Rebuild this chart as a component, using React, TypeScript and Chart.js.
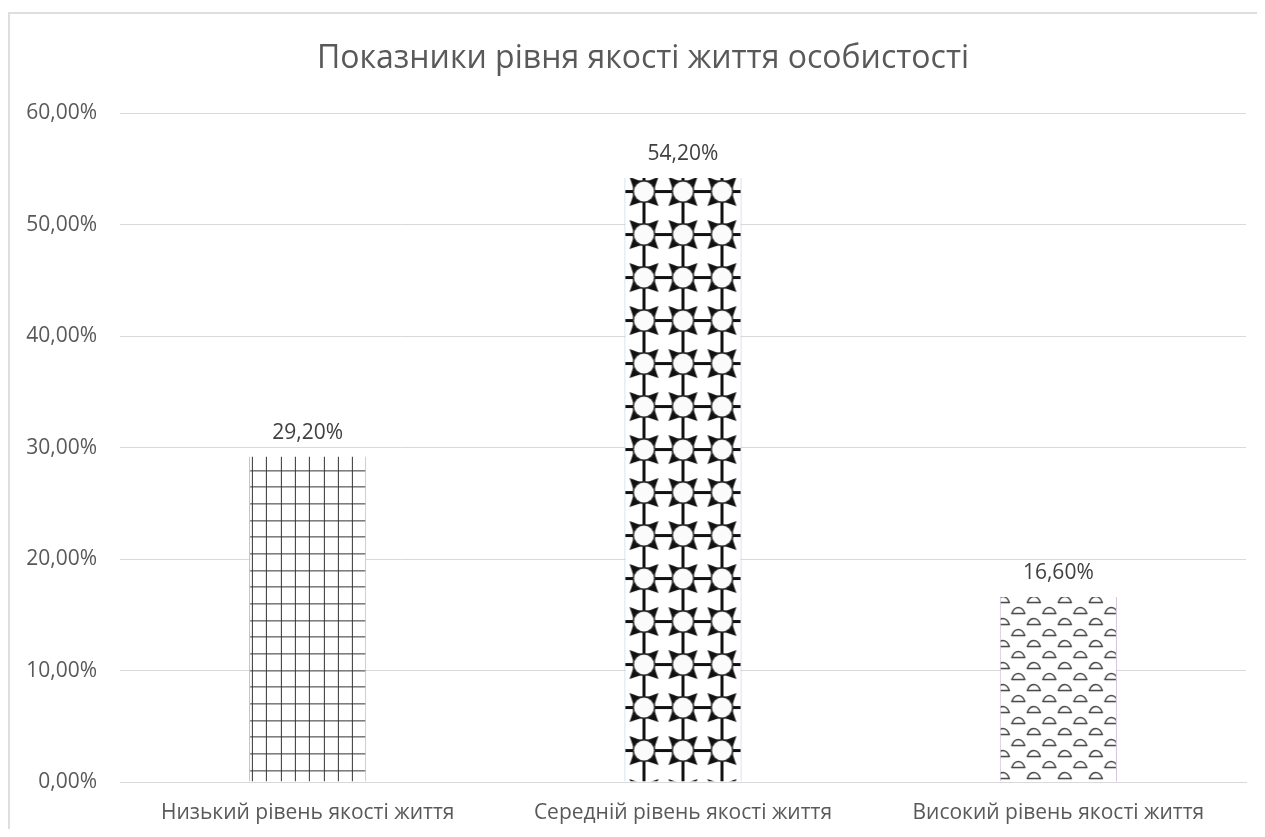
import React, { useEffect, useRef } from "react";
import { Chart, registerables } from "chart.js";

Chart.register(...registerables);

// Chart content
const chartTitle = "Показники рівня якості життя особистості";
const categories = [
  "Низький рівень якості життя",
  "Середній рівень якості життя",
  "Високий рівень якості життя",
];
const percentValues = [29.2, 54.2, 16.6];
const yMin = 0;
const yMax = 60;
const yStep = 10;

const FONT = "'Open Sans', 'Noto Sans', sans-serif";

const formatPercent = (v: number) => v.toFixed(2).replace(".", ",") + "%";

function makeTile(w: number, h: number, draw: (ctx: CanvasRenderingContext2D) => void) {
  const c = document.createElement("canvas");
  c.width = w;
  c.height = h;
  const ctx = c.getContext("2d")!;
  ctx.fillStyle = "#ffffff";
  ctx.fillRect(0, 0, w, h);
  draw(ctx);
  return c;
}

// Fine square grid
function gridTile() {
  return makeTile(43, 50, (ctx) => {
    ctx.fillStyle = "#333333";
    [0, 14, 29].forEach((x) => ctx.fillRect(x, 0, 1, 50));
    [0, 17, 33].forEach((y) => ctx.fillRect(0, y, 43, 1));
  });
}

// Lattice of white circles with four black points
function starTile() {
  const w = 39;
  const h = 43;
  return makeTile(w, h, (ctx) => {
    const cx = 19.5;
    const cy = 21.5;
    ctx.fillStyle = "#111111";
    ctx.fillRect(0, cy - 1.5, w, 3);
    ctx.fillRect(cx - 1.5, 0, 3, h);
    const r = 10;
    const d = 14.5;
    const c1 = 11;
    const c2 = 5.5;
    ctx.beginPath();
    ctx.moveTo(cx + r, cy);
    ctx.quadraticCurveTo(cx + c1, cy + c2, cx + d, cy + d);
    ctx.quadraticCurveTo(cx + c2, cy + c1, cx, cy + r);
    ctx.quadraticCurveTo(cx - c2, cy + c1, cx - d, cy + d);
    ctx.quadraticCurveTo(cx - c1, cy + c2, cx - r, cy);
    ctx.quadraticCurveTo(cx - c1, cy - c2, cx - d, cy - d);
    ctx.quadraticCurveTo(cx - c2, cy - c1, cx, cy - r);
    ctx.quadraticCurveTo(cx + c2, cy - c1, cx + d, cy - d);
    ctx.quadraticCurveTo(cx + c1, cy - c2, cx + r, cy);
    ctx.closePath();
    ctx.fill();
    ctx.beginPath();
    ctx.arc(cx, cy, r + 0.8, 0, Math.PI * 2);
    ctx.lineWidth = 1.2;
    ctx.strokeStyle = "#222222";
    ctx.stroke();
    ctx.beginPath();
    ctx.arc(cx, cy, r, 0, Math.PI * 2);
    ctx.fillStyle = "#fbfbfb";
    ctx.fill();
  });
}

// Staggered rows of small closed mounds
function moundTile() {
  const w = 31;
  const h = 22;
  return makeTile(w, h, (ctx) => {
    ctx.strokeStyle = "#444444";
    ctx.lineWidth = 1.5;
    ctx.lineJoin = "round";
    const mound = (cx: number, cy: number) => {
      ctx.beginPath();
      ctx.moveTo(cx - 6.5, cy + 2.5);
      ctx.bezierCurveTo(cx - 5.5, cy - 0.5, cx - 3.5, cy - 3.5, cx, cy - 3.5);
      ctx.bezierCurveTo(cx + 3.5, cy - 3.5, cx + 5.5, cy - 0.5, cx + 6.5, cy + 2.5);
      ctx.lineTo(cx - 6.5, cy + 2.5);
      ctx.closePath();
      ctx.stroke();
    };
    [-w, 0, w].forEach((ox) => {
      mound(4 + ox, 5);
      mound(19.5 + ox, 16);
    });
  });
}

export default function App() {
  const canvasRef = useRef<HTMLCanvasElement | null>(null);

  useEffect(() => {
    const canvas = canvasRef.current;
    if (!canvas) return;
    document.documentElement.style.overflow = "hidden";
    const ctx2d = canvas.getContext("2d")!;
    const patterns = [gridTile(), starTile(), moundTile()].map(
      (t) => ctx2d.createPattern(t, "repeat") as CanvasPattern
    );
    // where each pattern starts relative to the top-left corner of its bar
    const patternOffsets = [
      [2.7, -3.3],
      [0, -8],
      [-1, -2],
    ];

    const anchorPatterns = {
      id: "anchorPatterns",
      afterLayout(chart: any) {
        // centre the title across the full canvas width
        const t = chart.titleBlock;
        if (t) {
          t.left = 0;
          t.right = chart.width;
          t.width = chart.width;
        }
      },
      beforeDatasetsDraw(chart: any) {
        const meta = chart.getDatasetMeta(0);
        meta.data.forEach((bar: any, i: number) => {
          const { x, y, width } = bar.getProps(["x", "y", "width"], true);
          const left = x - width / 2;
          const [ox, oy] = patternOffsets[i];
          patterns[i].setTransform(new DOMMatrix([1, 0, 0, 1, left + ox, y + oy]));
        });
      },
    };

    const valueLabels = {
      id: "valueLabels",
      afterDatasetsDraw(chart: any) {
        const ctx = chart.ctx;
        const meta = chart.getDatasetMeta(0);
        ctx.save();
        ctx.font = `21px ${FONT}`;
        ctx.fillStyle = "#404040";
        ctx.textAlign = "center";
        ctx.textBaseline = "middle";
        meta.data.forEach((bar: any, i: number) => {
          const { x, y } = bar.getProps(["x", "y"], true);
          ctx.fillText(formatPercent(percentValues[i]), x, y - 24);
        });
        ctx.restore();
      },
    };

    const chart = new Chart(canvas, {
      type: "bar",
      data: {
        labels: categories,
        datasets: [
          {
            data: percentValues,
            backgroundColor: patterns,
            borderColor: ["#a9b8d6", "#b4c6e7", "#c8b6d8"],
            borderWidth: { left: 1, right: 1, top: 0, bottom: 0 },
            borderSkipped: false,
            barPercentage: 0.312,
            categoryPercentage: 1,
          },
        ],
      },
      options: {
        responsive: false,
        animation: false,
        layout: { padding: { left: 0, right: 30, top: 0, bottom: 0 } },
        plugins: {
          legend: { display: false },
          tooltip: { enabled: false },
          title: {
            display: true,
            text: chartTitle,
            color: "#595959",
            font: { family: FONT, size: 32, weight: "normal" },
            padding: { top: 26, bottom: 35 },
          },
        },
        scales: {
          x: {
            afterFit(scale: any) {
              scale.height = 47;
            },
            grid: { display: false, drawTicks: false },
            border: { display: true, color: "#d9d9d9", width: 1 },
            ticks: {
              color: "#595959",
              font: { family: FONT, size: 21 },
              padding: 18,
              maxRotation: 0,
            },
          },
          y: {
            min: yMin,
            max: yMax,
            afterFit(scale: any) {
              scale.width = 110;
            },
            grid: { color: "#d9d9d9", drawTicks: false, lineWidth: 1 },
            border: { display: false },
            ticks: {
              stepSize: yStep,
              color: "#595959",
              font: { family: FONT, size: 21 },
              padding: 23,
              callback: (v: any) => formatPercent(Number(v)),
            },
          },
        },
      },
      plugins: [anchorPatterns, valueLabels],
    });

    return () => chart.destroy();
  }, []);

  return (
    <div style={{ paddingTop: 4 }}>
      <div
        style={{
          width: 1257,
          height: 815,
          borderTop: "2px solid #dedede",
          borderLeft: "2px solid #dedede",
          overflow: "hidden",
          background: "#ffffff",
        }}
      >
        <canvas ref={canvasRef} width={1266} height={815} style={{ display: "block" }} />
      </div>
    </div>
  );
}
